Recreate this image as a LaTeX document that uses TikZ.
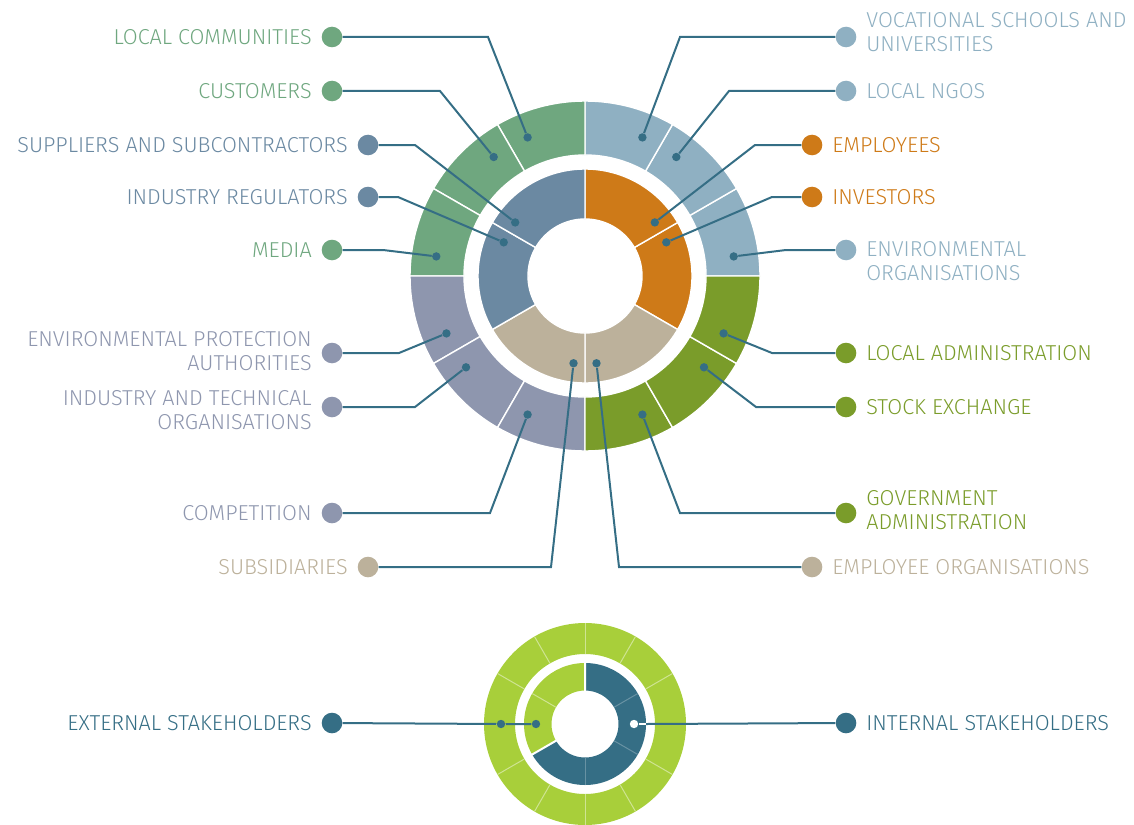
\documentclass[tikz,border=0pt]{standalone}
\usepackage{fontspec}
\setmainfont{Fira Sans}[UprightFont={* Light}]
\usetikzlibrary{positioning}

\definecolor{sage}{HTML}{6FA77F}
\definecolor{skyg}{HTML}{8FB0C2}
\definecolor{amber}{HTML}{CE7A18}
\definecolor{olive}{HTML}{7A9C2A}
\definecolor{lav}{HTML}{8E96AE}
\definecolor{slate}{HTML}{6B89A2}
\definecolor{sand}{HTML}{BCB19B}
\definecolor{deep}{HTML}{356E85}
\definecolor{lime}{HTML}{A8CF3A}

\tikzset{
  seg/.style={draw=white, line width=0.7pt},
  link/.style={draw=deep, line width=1pt},
  bigdot/.style={circle, inner sep=0pt, minimum size=10.3pt},
  spot/.style={circle, fill=deep, inner sep=0pt, minimum size=4.2pt},
  lbl/.style={font=\fontsize{10.8}{12}\selectfont, inner sep=0pt},
}

\begin{document}
\begin{tikzpicture}[x=0.5pt, y=0.5pt, node distance=4.6pt]
\useasboundingbox (0,0) rectangle (1134,-824);

% main rings
\begin{scope}[shift={(585,-276)}]
\foreach \a/\col in {0/skyg,30/skyg,60/skyg,90/sage,120/sage,150/sage,180/lav,210/lav,240/lav,270/olive,300/olive,330/olive}
  \filldraw[seg, fill=\col] (\a:121) -- (\a:175) arc[start angle=\a, delta angle=30, radius=175]
    -- ({\a+30}:121) arc[start angle=\a+30, delta angle=-30, radius=121] -- cycle;
\foreach \a/\col in {-30/amber,30/amber,-90/sand,-150/sand,150/slate,90/slate}
  \filldraw[seg, fill=\col] (\a:57) -- (\a:107) arc[start angle=\a, delta angle=60, radius=107]
    -- ({\a+60}:57) arc[start angle=\a+60, delta angle=-60, radius=57] -- cycle;

\node (p-comm) at (112.5:150) [spot] {};
\node (p-cust) at (127.5:150) [spot] {};
\node (p-supp) at (142.5:88) [spot] {};
\node (p-reg) at (157.5:88) [spot] {};
\node (p-media) at (172.5:150) [spot] {};
\node (p-envp) at (-157.5:150) [spot] {};
\node (p-itech) at (-142.5:150) [spot] {};
\node (p-comp) at (-112.5:150) [spot] {};
\node (p-subs) at (-97.5:88) [spot] {};
\node (p-voc) at (67.5:150) [spot] {};
\node (p-ngo) at (52.5:150) [spot] {};
\node (p-empl) at (37.5:88) [spot] {};
\node (p-inv) at (22.5:88) [spot] {};
\node (p-envo) at (7.5:150) [spot] {};
\node (p-ladm) at (-22.5:150) [spot] {};
\node (p-stock) at (-37.5:150) [spot] {};
\node (p-gov) at (-67.5:150) [spot] {};
\node (p-eorg) at (-82.5:88) [spot] {};
\end{scope}

% small rings
\begin{scope}[shift={(585,-724)}]
\fill[lime, even odd rule] (0,0) circle[radius=101] circle[radius=70];
\foreach \a in {0,30,...,330}
  \draw[lime!55!white, line width=0.5pt] (\a:70) -- (\a:101);
\fill[deep] (90:33.5) -- (90:61) arc[start angle=90, delta angle=-240, radius=61]
  -- (-150:33.5) arc[start angle=-150, delta angle=240, radius=33.5] -- cycle;
\fill[lime] (90:33.5) -- (90:61) arc[start angle=90, delta angle=120, radius=61]
  -- (210:33.5) arc[start angle=210, delta angle=-120, radius=33.5] -- cycle;
\foreach \a in {30,-30,-90}
  \draw[deep!75!white, line width=0.5pt] (\a:33.5) -- (\a:61);
\draw[lime!55!white, line width=0.5pt] (150:33.5) -- (150:61);
\draw[white, line width=1pt] (90:33) -- (90:62) (210:33) -- (210:62);

\node (p-ext1) at (180:84) [spot] {};
\node (p-ext2) at (180:49) [spot] {};
\node (p-int) at (0:49) [spot, fill=white] {};
\coordinate (q-int) at (0:61);
\end{scope}

% left labels
\node (d-comm) at (332,-37) [bigdot, fill=sage] {};
\node (t-comm) [lbl, sage, left=of d-comm] {LOCAL COMMUNITIES};
\node (d-cust) at (332,-91) [bigdot, fill=sage] {};
\node (t-cust) [lbl, sage, left=of d-cust] {CUSTOMERS};
\node (d-supp) at (368,-145) [bigdot, fill=slate] {};
\node (t-supp) [lbl, slate, left=of d-supp] {SUPPLIERS AND SUBCONTRACTORS};
\node (d-reg) at (368,-197) [bigdot, fill=slate] {};
\node (t-reg) [lbl, slate, left=of d-reg] {INDUSTRY REGULATORS};
\node (d-media) at (332,-250) [bigdot, fill=sage] {};
\node (t-media) [lbl, sage, left=of d-media] {MEDIA};
\node (d-envp) at (332,-353) [bigdot, fill=lav] {};
\node (t-envp) [lbl, lav, align=right, left=of d-envp, yshift=1.2pt] {ENVIRONMENTAL PROTECTION\\AUTHORITIES};
\node (d-itech) at (332,-407) [bigdot, fill=lav] {};
\node (t-itech) [lbl, lav, align=right, left=of d-itech, yshift=-1.5pt] {INDUSTRY AND TECHNICAL\\ORGANISATIONS};
\node (d-comp) at (332,-513) [bigdot, fill=lav] {};
\node (t-comp) [lbl, lav, left=of d-comp] {COMPETITION};
\node (d-subs) at (368,-567) [bigdot, fill=sand] {};
\node (t-subs) [lbl, sand, left=of d-subs] {SUBSIDIARIES};

% right labels
\node (d-voc) at (846,-37) [bigdot, fill=skyg] {};
\node (t-voc) [lbl, skyg, align=left, right=of d-voc, yshift=2.5pt] {VOCATIONAL SCHOOLS AND\\UNIVERSITIES};
\node (d-ngo) at (846,-91) [bigdot, fill=skyg] {};
\node (t-ngo) [lbl, skyg, right=of d-ngo] {LOCAL NGOS};
\node (d-empl) at (812,-145) [bigdot, fill=amber] {};
\node (t-empl) [lbl, amber, right=of d-empl] {EMPLOYEES};
\node (d-inv) at (812,-197) [bigdot, fill=amber] {};
\node (t-inv) [lbl, amber, right=of d-inv] {INVESTORS};
\node (d-envo) at (846,-250) [bigdot, fill=skyg] {};
\node (t-envo) [lbl, skyg, align=left, right=of d-envo, yshift=-5.5pt] {ENVIRONMENTAL\\ORGANISATIONS};
\node (d-ladm) at (846,-353) [bigdot, fill=olive] {};
\node (t-ladm) [lbl, olive, right=of d-ladm] {LOCAL ADMINISTRATION};
\node (d-stock) at (846,-407) [bigdot, fill=olive] {};
\node (t-stock) [lbl, olive, right=of d-stock] {STOCK EXCHANGE};
\node (d-gov) at (846,-513) [bigdot, fill=olive] {};
\node (t-gov) [lbl, olive, align=left, right=of d-gov, yshift=1.4pt] {GOVERNMENT\\ADMINISTRATION};
\node (d-eorg) at (812,-567) [bigdot, fill=sand] {};
\node (t-eorg) [lbl, sand, right=of d-eorg] {EMPLOYEE ORGANISATIONS};

% bottom labels
\node (d-ext) at (332,-723) [bigdot, fill=deep] {};
\node (t-ext) [lbl, deep, left=of d-ext] {EXTERNAL STAKEHOLDERS};
\node (d-int) at (846,-723) [bigdot, fill=deep] {};
\node (t-int) [lbl, deep, right=of d-int] {INTERNAL STAKEHOLDERS};

% connectors
\draw[link] (d-comm) -- (d-comm -| 488,0) -- (p-comm);
\draw[link] (d-cust) -- (d-cust -| 440,0) -- (p-cust);
\draw[link] (d-supp) -- (d-supp -| 415,0) -- (p-supp);
\draw[link] (d-reg) -- (d-reg -| 398,0) -- (p-reg);
\draw[link] (d-media) -- (d-media -| 383,0) -- (p-media);
\draw[link] (d-envp) -- (d-envp -| 399,0) -- (p-envp);
\draw[link] (d-itech) -- (d-itech -| 415,0) -- (p-itech);
\draw[link] (d-comp) -- (d-comp -| 490,0) -- (p-comp);
\draw[link] (d-subs) -- (d-subs -| 551,0) -- (p-subs);
\draw[link] (d-voc) -- (d-voc -| 680,0) -- (p-voc);
\draw[link] (d-ngo) -- (d-ngo -| 729,0) -- (p-ngo);
\draw[link] (d-empl) -- (d-empl -| 755,0) -- (p-empl);
\draw[link] (d-inv) -- (d-inv -| 772,0) -- (p-inv);
\draw[link] (d-envo) -- (d-envo -| 786,0) -- (p-envo);
\draw[link] (d-ladm) -- (d-ladm -| 772,0) -- (p-ladm);
\draw[link] (d-stock) -- (d-stock -| 756,0) -- (p-stock);
\draw[link] (d-gov) -- (d-gov -| 680,0) -- (p-gov);
\draw[link] (d-eorg) -- (d-eorg -| 619,0) -- (p-eorg);
\draw[link] (d-ext) -- (p-ext1) -- (p-ext2);
\draw[link] (d-int) -- (q-int);
\draw[white, line width=1pt] (q-int) -- (p-int);
\end{tikzpicture}
\end{document}
